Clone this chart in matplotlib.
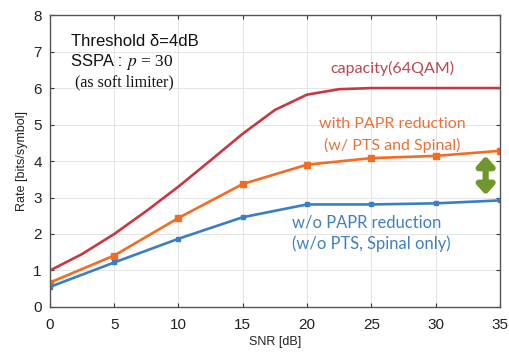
import matplotlib

matplotlib.use("Agg")
import matplotlib.pyplot as plt

# capacity curve (no markers)
CAP_SNR = [0, 2.5, 5, 7.5, 10, 12.5, 15, 17.5, 20, 22.5, 25, 30, 35]
CAP_RATE = [1.0, 1.45, 2.0, 2.63, 3.3, 4.02, 4.75, 5.4, 5.82, 5.97, 6.0, 6.0, 6.0]

SNR = [0, 5, 10, 15, 20, 25, 30, 35]
WITH_PAPR = [0.67, 1.41, 2.44, 3.37, 3.9, 4.08, 4.14, 4.28]
WITHOUT_PAPR = [0.55, 1.22, 1.87, 2.46, 2.81, 2.81, 2.84, 2.92]

X_TICKS = [0, 5, 10, 15, 20, 25, 30, 35]
Y_TICKS = [0, 1, 2, 3, 4, 5, 6, 7, 8]

RED = "#c9373f"
ORANGE = "#f46b22"
BLUE = "#3a7dc9"
GREEN = "#6e982e"

plt.rcParams["font.family"] = ["Liberation Sans", "DejaVu Sans"]
plt.rcParams["mathtext.fontset"] = "stix"

fig = plt.figure(figsize=(5.1, 3.52), dpi=100)
ax = fig.add_axes([0.098, 0.128, 0.882, 0.829])

ax.plot(CAP_SNR, CAP_RATE, "-", color=RED, linewidth=1.9)
ax.plot(SNR, WITH_PAPR, "s-", color=ORANGE, linewidth=1.9, markersize=4.5)
ax.plot(SNR, WITHOUT_PAPR, "s-", color=BLUE, linewidth=1.9, markersize=2.8)

ax.set_xlim(0, 35)
ax.set_ylim(0, 8)
ax.set_xticks(X_TICKS)
ax.set_yticks(Y_TICKS)
ax.tick_params(direction="in", length=3, labelsize=11, colors="#333333",
               top=True, right=True, pad=6)
ax.tick_params(axis="x", labelcolor="#222222", pad=8)
ax.tick_params(axis="y", labelcolor="#222222")
for s in ax.spines.values():
    s.set_color("#555555")
    s.set_linewidth(1.0)
ax.grid(True, color="#e4e4e4", linewidth=0.7)
ax.set_axisbelow(True)
ax.set_xlabel("SNR [dB]", fontsize=9, color="#222222", labelpad=3)
ax.set_ylabel("Rate [bits/symbol]", fontsize=9, color="#222222", labelpad=4)

# annotations
ax.annotate("", xy=(33.9, 4.14), xytext=(33.9, 3.07),
            arrowprops=dict(arrowstyle="<|-|>,head_length=0.55,head_width=0.5",
                            color=GREEN, linewidth=4.5, shrinkA=0, shrinkB=0))

fig.text(71 / 510, 1 - 42 / 352, "Threshold δ=4dB", fontsize=12, color="#111111",
         va="center", ha="left")
fig.text(71 / 510, 1 - 62 / 352, "SSPA :", fontsize=12, color="#111111",
         va="center", ha="left")
fig.text(126 / 510, 1 - 62 / 352, "$p$ = 30", fontsize=12.5, color="#111111",
         va="center", ha="left", family="Liberation Serif")
fig.text(75 / 510, 1 - 82 / 352, "(as soft limiter)", fontsize=11.5, color="#111111",
         va="center", ha="left", family="Liberation Serif")

ann_font = ["Lato", "DejaVu Sans"]
fig.text(392 / 510, 1 - 68 / 352, "capacity(64QAM)", fontsize=11.5, color="#b84750",
         va="center", ha="center", family=ann_font)
fig.text(392 / 510, 1 - 124 / 352, "with PAPR reduction", fontsize=11.5, color="#e8713a",
         va="center", ha="center", family=ann_font)
fig.text(392 / 510, 1 - 145 / 352, "(w/ PTS and Spinal)", fontsize=11.5, color="#e8713a",
         va="center", ha="center", family=ann_font)
fig.text(292 / 510, 1 - 222 / 352, "w/o PAPR reduction", fontsize=11.9, color="#3f80c2",
         va="center", ha="left", family=ann_font)
fig.text(292 / 510, 1 - 244 / 352, "(w/o PTS, Spinal only)", fontsize=11.9, color="#3f80c2",
         va="center", ha="left", family=ann_font)

fig.savefig("out.png", dpi=100)
